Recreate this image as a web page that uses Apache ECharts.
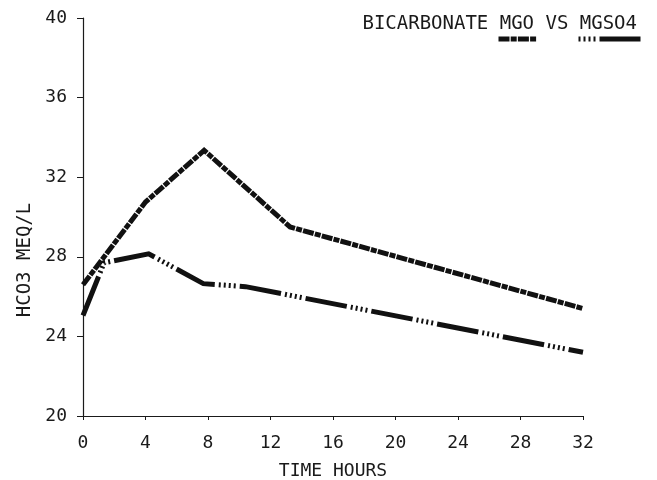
<!DOCTYPE html>
<html>
<head>
<meta charset="utf-8">
<script src="https://cdn.jsdelivr.net/npm/echarts@6/dist/echarts.min.js"></script>
<style>html,body{margin:0;padding:0;background:#fff;}#c{width:657px;height:480px;}</style>
</head>
<body>
<div id="c"></div>
<script>
const titleText = 'BICARBONATE MGO VS MGSO4';
const xName = 'TIME HOURS';
const yName = 'HCO3 MEQ/L';
const seriesNames = ['MGO', 'MGSO4'];
const mgoHours = [0, 4, 7.75, 13.25, 32];
const mgoValues = [26.6, 30.75, 33.35, 29.5, 25.4];
const mgso4Hours = [0, 1.35, 4.2, 7.7, 10.4, 32];
const mgso4Values = [25.05, 27.7, 28.15, 26.65, 26.5, 23.2];
const xTicks = [0, 4, 8, 12, 16, 20, 24, 28, 32];
const yTicks = [20, 24, 28, 32, 36, 40];

const FONT = 'DejaVu Sans Mono';
const INK = '#1a1a1a';
const legendBase = {
  top: 36, padding: 0, itemHeight: 6,
  formatter: () => '',
  textStyle: { fontSize: 1 },
  itemStyle: { opacity: 0 }
};
const chart = echarts.init(document.getElementById('c'));
chart.setOption({
  backgroundColor: '#fff',
  animation: false,
  color: ['#111', '#111'],
  title: {
    text: titleText, right: 20, top: 15, padding: 0,
    textStyle: { fontFamily: FONT, fontSize: 19, fontWeight: 'normal', color: INK }
  },
  legend: [
    Object.assign({}, legendBase, { data: [seriesNames[0]], left: 496, itemWidth: 38, lineStyle: { width: 5 } }),
    Object.assign({}, legendBase, { data: [seriesNames[1]], left: 572, itemWidth: 66, lineStyle: { width: 5, dashOffset: 42 } })
  ],
  grid: { left: 83, right: 74, top: 18, bottom: 64, outerBoundsMode: 'none', containLabel: false },
  xAxis: {
    type: 'value', min: xTicks[0], max: xTicks[xTicks.length - 1], interval: 4,
    name: xName, nameLocation: 'middle', nameGap: 46,
    nameTextStyle: { fontFamily: FONT, fontSize: 18, color: INK },
    axisLine: { lineStyle: { color: INK, width: 1.2 } },
    axisTick: { show: true, length: 4, lineStyle: { color: INK } },
    axisLabel: { fontFamily: FONT, fontSize: 18, color: INK, margin: 18 },
    splitLine: { show: false }
  },
  yAxis: {
    type: 'value', min: yTicks[0], max: yTicks[yTicks.length - 1], interval: 4,
    axisLine: { show: true, lineStyle: { color: INK, width: 1.2 } },
    axisTick: { show: true, length: 6, lineStyle: { color: INK } },
    axisLabel: { fontFamily: FONT, fontSize: 18, color: INK, margin: 16 },
    splitLine: { show: false }
  },
  graphic: [{
    type: 'text', x: 25, y: 260, rotation: Math.PI / 2,
    style: { text: yName, font: '19px "DejaVu Sans Mono"', fill: INK, align: 'center', verticalAlign: 'middle' }
  }],
  series: [
    {
      name: seriesNames[0], type: 'line', symbol: 'none',
      data: mgoHours.map((h, i) => [h, mgoValues[i]]),
      lineStyle: { color: '#111', width: 5, type: [11, 1.2, 6, 1.2], cap: 'butt', join: 'miter' }
    },
    {
      name: seriesNames[1], type: 'line', symbol: 'none',
      data: mgso4Hours.map((h, i) => [h, mgso4Values[i]]),
      lineStyle: { color: '#111', width: 5, type: [42, 4, 2, 3, 2, 3, 2, 3, 2, 4], cap: 'butt', join: 'miter' }
    }
  ]
});
</script>
</body>
</html>
